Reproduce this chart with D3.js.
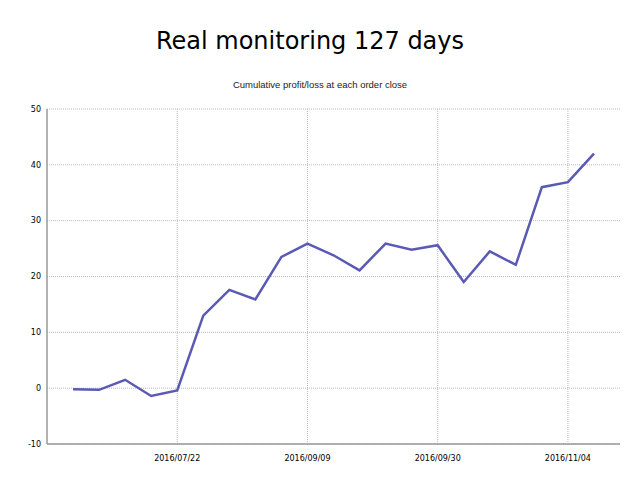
<!DOCTYPE html>
<html><head><meta charset="utf-8">
<script src="https://cdn.jsdelivr.net/npm/d3@7"></script>
<style>body{margin:0;background:#fff}</style>
</head><body>
<script>
const title = "Real monitoring 127 days";
const subtitle = "Cumulative profit/loss at each order close";
const values = [-0.2, -0.3, 1.5, -1.4, -0.4, 13.0, 17.6, 15.9, 23.5, 25.9, 23.8, 21.1, 25.9, 24.8, 25.6, 19.0, 24.5, 22.1, 36.0, 36.9, 42.0];
const xTickIndex = [4, 9, 14, 19];
const xTickLabels = ["2016/07/22", "2016/09/09", "2016/09/30", "2016/11/04"];
const yTicks = [-10, 0, 10, 20, 30, 40, 50];

const W = 640, H = 480;
const m = {left: 47, right: 20, top: 109, bottom: 36};
const svg = d3.select("body").append("svg").attr("width", W).attr("height", H);

const x = d3.scaleLinear().domain([-1, values.length]).range([m.left, W - m.right]);
const y = d3.scaleLinear().domain([-10, 50]).range([H - m.bottom, m.top]);

svg.append("text").attr("x", 310).attr("y", 49).attr("text-anchor", "middle")
  .style("font-family", "DejaVu Sans, Verdana, sans-serif").style("font-size", "24px").attr("fill", "#000").text(title);
svg.append("text").attr("x", 320).attr("y", 88).attr("text-anchor", "middle")
  .style("font-family", "Liberation Sans, Arial, sans-serif").style("font-size", "9.5px").attr("fill", "#222").text(subtitle);

// horizontal grid
svg.append("g").selectAll("line").data(yTicks).join("line")
  .attr("x1", m.left).attr("x2", W - m.right)
  .attr("y1", d => y(d)).attr("y2", d => y(d))
  .attr("stroke", "#bbb").attr("stroke-width", 1).attr("stroke-dasharray", "1,1");
// vertical grid
svg.append("g").selectAll("line").data(xTickIndex).join("line")
  .attr("x1", d => x(d)).attr("x2", d => x(d))
  .attr("y1", m.top).attr("y2", H - m.bottom)
  .attr("stroke", "#bbb").attr("stroke-width", 1).attr("stroke-dasharray", "1,1");

// axes lines
svg.append("line").attr("x1", m.left).attr("x2", m.left).attr("y1", m.top).attr("y2", H - m.bottom)
  .attr("stroke", "#999").attr("stroke-width", 1.5);
svg.append("line").attr("x1", m.left).attr("x2", W - m.right).attr("y1", H - m.bottom).attr("y2", H - m.bottom)
  .attr("stroke", "#999").attr("stroke-width", 1.5);

// tick labels
svg.append("g").selectAll("text").data(yTicks).join("text")
  .attr("x", 41).attr("y", d => y(d)).attr("dy", "0.35em").attr("text-anchor", "end")
  .style("font-family", "DejaVu Sans, Verdana, sans-serif").style("font-size", "8px").attr("fill", "#000")
  .text(d => d);
svg.append("g").selectAll("text").data(xTickIndex).join("text")
  .attr("x", d => x(d)).attr("y", H - m.bottom + 17).attr("text-anchor", "middle")
  .style("font-family", "DejaVu Sans, Verdana, sans-serif").style("font-size", "8px").attr("fill", "#000")
  .text((d, i) => xTickLabels[i]);

// line
const line = d3.line().x((d, i) => x(i)).y(d => y(d));
svg.append("path").datum(values).attr("d", line).attr("fill", "none")
  .attr("stroke", "#5a5ab4").attr("stroke-width", 2.5).attr("stroke-linejoin", "miter");
</script>
</body></html>
